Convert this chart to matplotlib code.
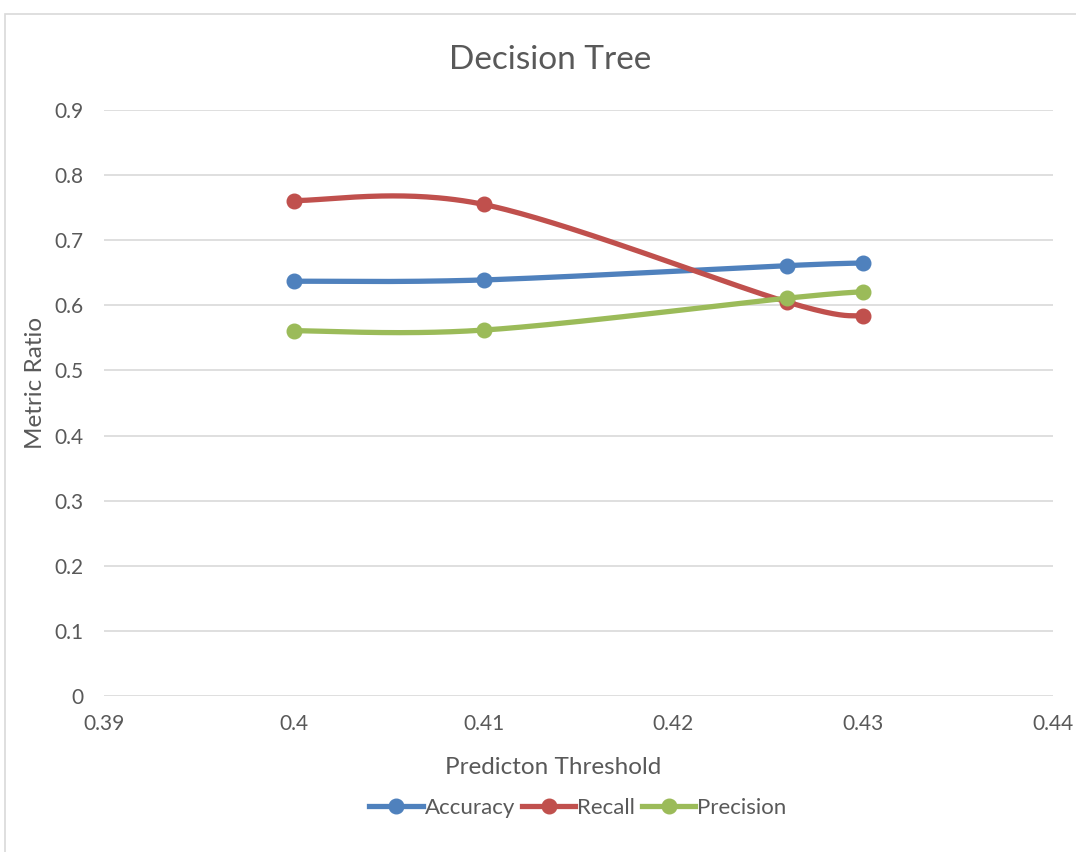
import numpy as np
import matplotlib.pyplot as plt
from matplotlib.patches import Rectangle

plt.rcParams['font.family'] = ['Lato', 'DejaVu Sans']

thresholds = [0.40, 0.41, 0.426, 0.43]
accuracy = [0.637, 0.639, 0.661, 0.665]
recall = [0.761, 0.755, 0.605, 0.583]
precision = [0.561, 0.562, 0.611, 0.621]

series = [("Accuracy", accuracy, "#4F81BD"),
          ("Recall", recall, "#C0504D"),
          ("Precision", precision, "#9BBB59")]


def smooth(xs, ys, n=60):
    # bezier segments with catmull-rom style handles (1/6 of neighbour span)
    p = np.column_stack([xs, ys]).astype(float)
    p = np.vstack([p[0], p, p[-1]])
    out = []
    for i in range(1, len(p) - 2):
        p0, p1, p2, p3 = p[i - 1], p[i], p[i + 1], p[i + 2]
        c1 = p1 + (p2 - p0) / 6
        c2 = p2 - (p3 - p1) / 6
        t = np.linspace(0, 1, n)[:, None]
        seg = ((1 - t) ** 3 * p1 + 3 * (1 - t) ** 2 * t * c1
               + 3 * (1 - t) * t ** 2 * c2 + t ** 3 * p2)
        out.append(seg)
    out = np.vstack(out)
    return out[:, 0], out[:, 1]


fig = plt.figure(figsize=(10.76, 8.52), dpi=100)
fig.patches.append(Rectangle((5 / 1076, -0.1), 1.2, (852 - 14) / 852 + 0.1,
                             transform=fig.transFigure, fill=False,
                             edgecolor="#D9D9D9", lw=1.2))

ax = fig.add_axes([104 / 1076, (852 - 696) / 852, (1053 - 104) / 1076, (696 - 110) / 852])

for name, vals, col in series:
    sx, sy = smooth(thresholds, vals)
    ax.plot(sx, sy, color=col, lw=3.8, solid_capstyle="round", zorder=3)
    ax.plot(thresholds, vals, "o", color=col, ms=10.5, zorder=4)
    ax.plot([], [], color=col, lw=3.8, marker="o", ms=10.5, label=name)

ax.set_xlim(0.39, 0.44)
ax.set_ylim(0, 0.9)
ax.set_xticks([0.39, 0.40, 0.41, 0.42, 0.43, 0.44])
ax.set_xticklabels(["0.39", "0.4", "0.41", "0.42", "0.43", "0.44"])
ax.set_yticks(np.arange(0, 0.91, 0.1))
ax.set_yticklabels(["0", "0.1", "0.2", "0.3", "0.4", "0.5", "0.6", "0.7", "0.8", "0.9"])
ax.grid(axis="y", color="#D9D9D9", lw=1.2)
ax.set_axisbelow(True)
for s in ax.spines.values():
    s.set_visible(False)
ax.tick_params(length=0, labelsize=15, labelcolor="#595959")
ax.tick_params(axis="y", pad=15)
ax.tick_params(axis="x", pad=13)

fig.text(550 / 1076, 1 - 60 / 852, "Decision Tree", ha="center", va="center",
         fontsize=24, color="#595959")
fig.text(553 / 1076, 1 - 767 / 852, "Predicton Threshold", ha="center", va="center",
         fontsize=17.5, color="#595959")
fig.text(35 / 1076, 1 - 383 / 852, "Metric Ratio", ha="center", va="center",
         rotation=90, fontsize=17.5, color="#595959")

leg = fig.legend(loc="center", bbox_to_anchor=(578 / 1076, 1 - 808 / 852), ncol=3,
                 frameon=False, fontsize=16, handlelength=2.4, handletextpad=0.1,
                 columnspacing=0.3)
for t in leg.get_texts():
    t.set_color("#595959")

fig.savefig("out.png", dpi=100)
